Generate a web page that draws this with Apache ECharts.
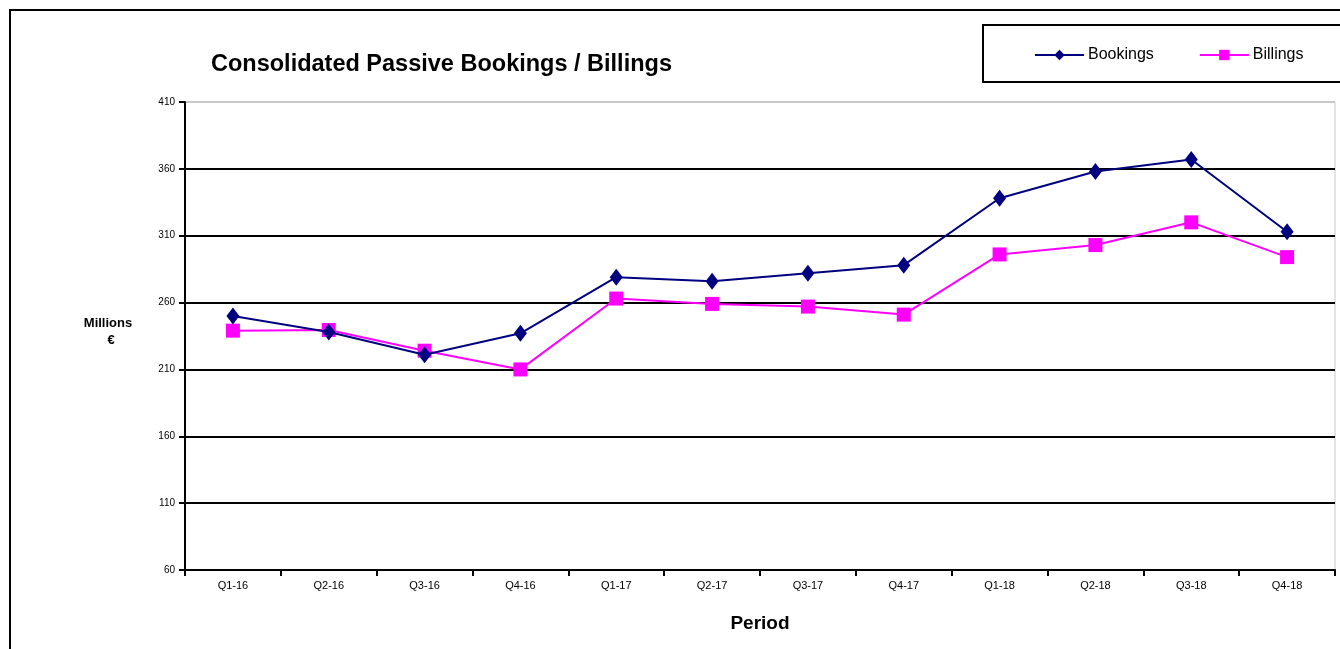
<!DOCTYPE html>
<html>
<head>
<meta charset="utf-8">
<script src="https://cdn.jsdelivr.net/npm/echarts@6/dist/echarts.min.js"></script>
<style>
  html, body { margin: 0; padding: 0; background: #fff; }
  #main { width: 1340px; height: 649px; }
</style>
</head>
<body>
<div id="main"></div>
<script>
// quarters on x axis
const periods = ["Q1-16", "Q2-16", "Q3-16", "Q4-16", "Q1-17", "Q2-17", "Q3-17", "Q4-17", "Q1-18", "Q2-18", "Q3-18", "Q4-18"];
// millions of euro
const bookings = [250, 238, 221, 237, 279, 276, 282, 288, 338, 358, 367, 313];
const billings = [239, 239.5, 224, 210, 263, 259, 257, 251, 296, 303, 320, 294];

const chart = echarts.init(document.getElementById("main"));

// grid lines are black, except the top one (410) which is pale grey
const splitColors = ["#000", "#000", "#000", "#000", "#000", "#000", "#000", "#c8c8c8"];

chart.setOption({
  animation: false,
  textStyle: { fontFamily: "Liberation Sans, Arial, sans-serif" },
  title: {
    text: "Consolidated Passive Bookings / Billings",
    left: 206,
    top: 48,
    textStyle: { fontSize: 23.5, fontWeight: "bold", color: "#000" },
  },
  legend: {
    left: 1029,
    top: 42,
    itemWidth: 49,
    itemHeight: 13,
    itemGap: 45,
    textStyle: { fontSize: 16, color: "#000", padding: [0, 0, 0, -1] },
    data: ["Bookings", "Billings"],
  },
  graphic: [
    {
      type: "rect",
      shape: { x: 10, y: 10, width: 1400, height: 700 },
      style: { fill: null, stroke: "#000", lineWidth: 2 },
    },
    {
      type: "rect",
      shape: { x: 983, y: 25, width: 420, height: 57 },
      style: { fill: "#fff", stroke: "#000", lineWidth: 2 },
      z: -1,
    },
    {
      type: "text",
      x: 108,
      y: 323,
      style: { text: "Millions", font: "bold 13px Liberation Sans", fill: "#000", align: "center", verticalAlign: "middle" },
    },
    {
      type: "text",
      x: 111,
      y: 340,
      style: { text: "€", font: "bold 13px Liberation Sans", fill: "#000", align: "center", verticalAlign: "middle" },
    },
  ],
  grid: {
    left: 185,
    right: 5,
    top: 102,
    bottom: 79,
    show: true,
    borderColor: "#c8c8c8",
    borderWidth: 1,
  },
  xAxis: {
    type: "category",
    data: periods,
    name: "Period",
    nameLocation: "middle",
    nameGap: 44,
    nameTextStyle: { fontSize: 19, fontWeight: "bold", color: "#000" },
    axisLine: { lineStyle: { color: "#000", width: 2 } },
    axisTick: { show: true, length: 6, lineStyle: { color: "#000", width: 2 } },
    axisLabel: { fontSize: 11, color: "#000", margin: 10 },
  },
  yAxis: {
    type: "value",
    min: 60,
    max: 410,
    interval: 50,
    axisLine: { show: true, lineStyle: { color: "#000", width: 2 } },
    axisTick: { show: true, length: 6, lineStyle: { color: "#000", width: 2 } },
    axisLabel: { fontSize: 10, color: "#000", margin: 10 },
    splitLine: { lineStyle: { color: splitColors, width: 2 } },
  },
  series: [
    {
      name: "Bookings",
      type: "line",
      data: bookings,
      symbol: "diamond",
      symbolSize: [13, 17],
      itemStyle: { color: "#000080" },
      lineStyle: { color: "#000080", width: 2 },
      z: 3,
    },
    {
      name: "Billings",
      type: "line",
      data: billings,
      symbol: "rect",
      symbolSize: 14,
      itemStyle: { color: "#ff00ff" },
      lineStyle: { color: "#ff00ff", width: 2 },
      z: 2,
    },
  ],
});
</script>
</body>
</html>
